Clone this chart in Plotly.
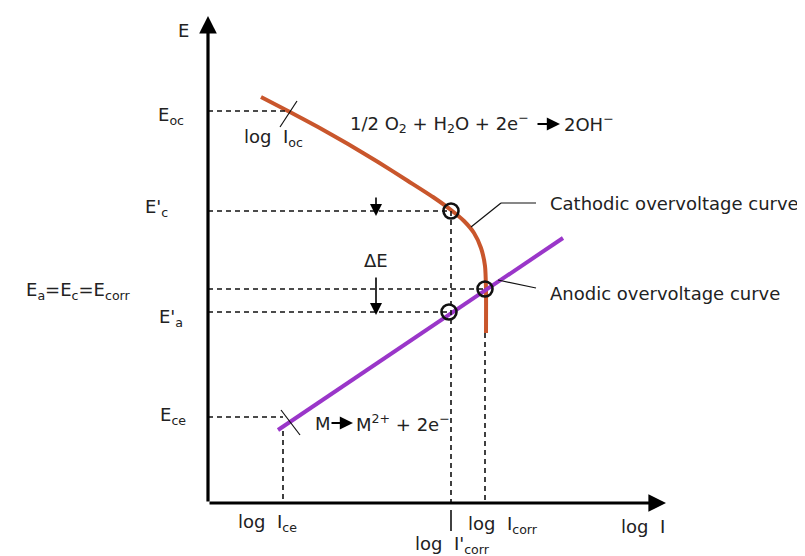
import plotly.graph_objects as go

# ---- schematic data (diagram units: x = log I, y = E) ----
E_oc = 392
E_c_prime = 292
E_corr = 214
E_a_prime = 191
E_ce = 86

logI_oc = 80
logI_ce = 75
logI_corr_prime = 243
logI_corr = 277

cathodic_x = [53, 80, 110, 140, 170, 200, 225, 243, 256, 266, 273, 277, 278, 278]
cathodic_y = [406, 392, 376, 359, 341, 322, 306, 293, 282, 270, 255, 237, 213, 170]

anodic_x = [70, 355]
anodic_y = [73, 265]

circle_x = [243, 277, 241]
circle_y = [E_c_prime, E_corr, E_a_prime]

FONT = "DejaVu Sans"
TXT = "#222222"
FS = 18

fig = go.Figure()

# curves
fig.add_trace(go.Scatter(x=cathodic_x, y=cathodic_y, mode="lines",
                         line=dict(color="#c9562c", width=4, shape="spline", smoothing=0.6),
                         hoverinfo="skip"))
fig.add_trace(go.Scatter(x=anodic_x, y=anodic_y, mode="lines",
                         line=dict(color="#9a36c9", width=4), hoverinfo="skip"))

shapes = []

def dline(x0, y0, x1, y1):
    shapes.append(dict(type="line", xref="x", yref="y", x0=x0, y0=y0, x1=x1, y1=y1,
                       line=dict(color="#111111", width=1.6, dash="5px,4px")))

def sline(x0, y0, x1, y1, w=1.2):
    shapes.append(dict(type="line", xref="x", yref="y", x0=x0, y0=y0, x1=x1, y1=y1,
                       line=dict(color="#111111", width=w)))

# horizontal dashed lines
dline(0, E_oc, logI_oc, E_oc)
dline(0, E_c_prime, logI_corr_prime, E_c_prime)
dline(0, E_corr, logI_corr, E_corr)
dline(0, E_a_prime, logI_corr_prime - 2, E_a_prime)
dline(0, E_ce, logI_ce, E_ce)
# vertical dashed lines
dline(logI_ce, 72, logI_ce, 0)
dline(logI_corr_prime, E_c_prime, logI_corr_prime, 0)
dline(logI_corr, 170, logI_corr, 0)

# tick crosses
sline(72, 376, 89, 402)
sline(73, 93, 92, 68)
# tick under axis at log I'corr
sline(logI_corr_prime, -7, logI_corr_prime, -28, w=1.6)
# leader lines
sline(263, 276, 293, 300)
sline(293, 300, 328, 300)
sline(290, 223, 328, 215)

# circles
fig.add_trace(go.Scatter(x=circle_x, y=circle_y, mode="markers",
                         marker=dict(symbol="circle-open", size=15, color="#111111",
                                     line=dict(width=2.6, color="#111111")),
                         hoverinfo="skip"))

annotations = []

def arrow(x, y, ax, ay, w=3, size=1.0):
    annotations.append(dict(x=x, y=y, ax=ax, ay=ay, xref="x", yref="y", axref="x", ayref="y",
                            text="", showarrow=True, arrowhead=2, arrowsize=size,
                            arrowwidth=w, arrowcolor="#000000"))

# axes
arrow(0, 487, 0, 0, w=3.2, size=1.1)
arrow(458, 0, 0, 0, w=3.2, size=1.1)
# delta E arrows
arrow(168, 287, 168, 307, w=1.6, size=1.5)
arrow(168, 188, 168, 227, w=1.6, size=1.5)
# reaction arrows
arrow(352, 379, 328, 379, w=2.2, size=1.2)
arrow(145, 80, 122, 80, w=2.2, size=1.2)

def text(x, y, s, anchor="center", size=FS):
    annotations.append(dict(x=x, y=y, xref="x", yref="y", text=s, showarrow=False,
                            xanchor=anchor, yanchor="middle",
                            font=dict(family=FONT, size=size, color=TXT)))

text(-25, 473, "E")
text(-37, 387, "E<sub>oc</sub>")
text(65, 365, "log  I<sub>oc</sub>")
text(140, 380, "1/2 O<sub>2</sub> + H<sub>2</sub>O + 2e<sup>−</sup>", anchor="left")
text(354, 380, "2OH<sup>−</sup>", anchor="left")
text(-52, 295, "E'<sub>c</sub>")
text(168, 243, "ΔE")
text(-130, 212, "E<sub>a</sub>=E<sub>c</sub>=E<sub>corr</sub>")
text(-37, 185, "E'<sub>a</sub>")
text(-35, 87, "E<sub>ce</sub>")
text(105, 80, "M", anchor="left")
text(146, 80, "M<sup>2+</sup> + 2e<sup>−</sup>", anchor="left")
text(59, -20, "log  I<sub>ce</sub>")
text(295, -22, "log  I<sub>corr</sub>")
text(244, -42, "log  I'<sub>corr</sub>")
text(435, -23, "log  I")
text(340, 300, "Cathodic overvoltage curve", anchor="left")
text(340, 210, "Anodic overvoltage curve", anchor="left")

fig.update_layout(
    width=805, height=556,
    margin=dict(l=0, r=0, t=0, b=0),
    paper_bgcolor="white", plot_bgcolor="white",
    showlegend=False,
    shapes=shapes, annotations=annotations,
    xaxis=dict(range=[-200, 605], visible=False, fixedrange=True),
    yaxis=dict(range=[-61, 495], visible=False, fixedrange=True),
)

fig.write_html("out.html")
